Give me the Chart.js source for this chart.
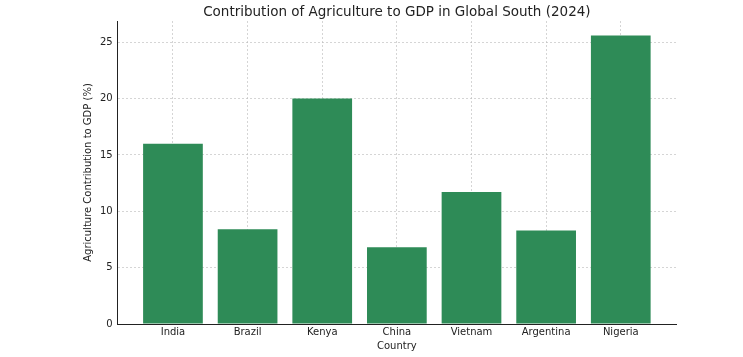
<!DOCTYPE html>
<html>
<head>
<meta charset="utf-8">
<script src="https://cdn.jsdelivr.net/npm/chart.js@4/dist/chart.umd.min.js"></script>
<style>
html,body{margin:0;padding:0;background:#fff;}
#wrap{width:743px;height:357px;position:relative;}
</style>
</head>
<body>
<div id="wrap"><canvas id="c" width="743" height="357"></canvas></div>
<script>
const categories = ["India", "Brazil", "Kenya", "China", "Vietnam", "Argentina", "Nigeria"];
const values = [16.0, 8.4, 20.0, 6.8, 11.7, 8.3, 25.6];
const yTicks = [0, 5, 10, 15, 20, 25];
const titleText = 'Contribution of Agriculture to GDP in Global South (2024)';

const FONT = "'DejaVu Sans', sans-serif";
const gridColor = 'rgba(185,185,185,0.6)';

const points = categories.map((c, i) => ({x: i, y: values[i]}));

const centeredTitle = {
  id: 'centeredTitle',
  afterDraw(chart) {
    const {ctx, chartArea} = chart;
    ctx.save();
    ctx.font = "13.5px " + FONT;
    ctx.fillStyle = '#222';
    ctx.textAlign = 'center';
    ctx.textBaseline = 'middle';
    ctx.fillText(titleText, (chartArea.left + chartArea.right) / 2, 12);
    ctx.restore();
  }
};

new Chart(document.getElementById('c'), {
  type: 'bar',
  data: {
    datasets: [{
      data: points,
      backgroundColor: '#2e8b57',
      borderWidth: 0,
      barPercentage: 0.8,
      categoryPercentage: 1.0
    }]
  },
  plugins: [centeredTitle],
  options: {
    responsive: false,
    animation: false,
    events: [],
    layout: {padding: {left: 82, right: 67, top: 21, bottom: 5}},
    plugins: {
      legend: {display: false},
      tooltip: {enabled: false},
      title: {display: false}
    },
    scales: {
      x: {
        type: 'linear',
        min: -0.74,
        max: 6.74,
        offset: false,
        z: 1,
        afterBuildTicks: (axis) => { axis.ticks = categories.map((c, i) => ({value: i})); },
        ticks: {
          callback: (v) => categories[v],
          color: '#222',
          font: {family: FONT, size: 10, lineHeight: 1.0},
          padding: 3,
          maxRotation: 0,
          autoSkip: false
        },
        grid: {
          offset: false,
          color: gridColor,
          drawTicks: false
        },
        border: {display: true, color: '#222', width: 1, dash: [2, 2]},
        title: {
          display: true,
          text: 'Country',
          color: '#222',
          font: {family: FONT, size: 10},
          padding: {top: 0, bottom: 0}
        }
      },
      y: {
        min: 0,
        max: 26.88,
        z: 1,
        afterBuildTicks: (axis) => { axis.ticks = yTicks.map(v => ({value: v})); },
        ticks: {
          color: '#222',
          font: {family: FONT, size: 10},
          padding: 5
        },
        grid: {
          color: gridColor,
          drawTicks: false
        },
        border: {display: true, color: '#222', width: 1, dash: [2, 2]},
        title: {
          display: true,
          text: 'Agriculture Contribution to GDP (%)',
          color: '#222',
          font: {family: FONT, size: 10},
          padding: {top: 0, bottom: 1}
        }
      }
    }
  }
});
</script>
</body>
</html>
